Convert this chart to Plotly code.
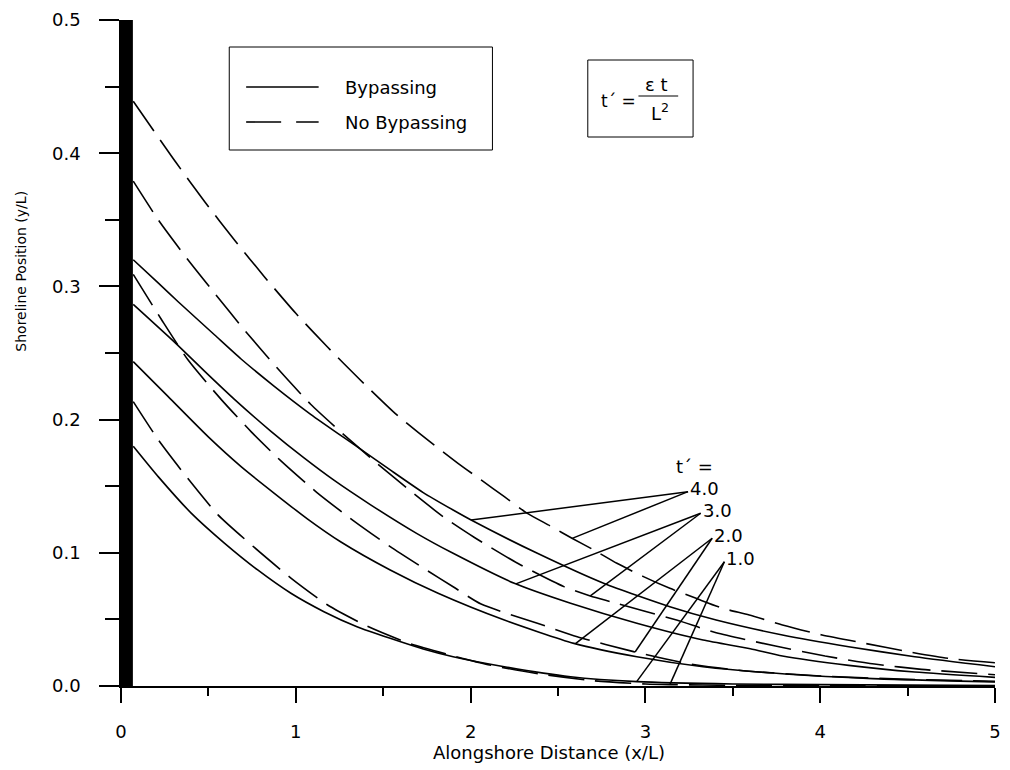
import numpy as np
import plotly.graph_objects as go

# ---------------- data ----------------
# Bypassing (solid)
x_b1 = [0.07, 0.214, 0.403, 0.593, 0.782, 0.972, 1.161, 1.35, 1.54, 1.729, 1.9, 2.193, 2.572, 2.951, 3.5, 4.0, 5.0]
y_b1 = [0.180, 0.157, 0.1296, 0.1071, 0.0871, 0.0696, 0.0558, 0.0445, 0.0358, 0.0278, 0.022, 0.0145, 0.007, 0.0033, 0.0015, 0.001, 0.0003]

x_b2 = [0.07, 0.27, 0.498, 0.687, 0.877, 1.066, 1.256, 1.54, 1.814, 2.193, 2.591, 2.951, 3.33, 3.8, 4.3, 5.0]
y_b2 = [0.2435, 0.2172, 0.1872, 0.1647, 0.1447, 0.1255, 0.1083, 0.0871, 0.0696, 0.0495, 0.032, 0.022, 0.0145, 0.009, 0.0055, 0.003]

x_b3 = [0.07, 0.309, 0.479, 0.649, 0.858, 1.047, 1.218, 1.426, 1.691, 1.9, 2.25, 2.572, 2.951, 3.33, 3.6, 3.784, 4.163, 4.541, 5.0]
y_b3 = [0.2865, 0.2578, 0.2362, 0.2152, 0.1912, 0.1712, 0.1545, 0.1362, 0.1146, 0.0996, 0.0771, 0.0621, 0.0471, 0.0345, 0.028, 0.0225, 0.0155, 0.0105, 0.0065]

x_b4 = [0.07, 0.214, 0.327, 0.536, 0.687, 0.877, 1.085, 1.35, 1.54, 1.729, 1.9, 2.003, 2.382, 2.761, 3.14, 3.405, 3.784, 4.163, 4.541, 5.0]
y_b4 = [0.320, 0.3025, 0.2885, 0.2635, 0.2455, 0.2250, 0.2040, 0.1797, 0.1622, 0.1452, 0.1321, 0.1246, 0.0996, 0.0771, 0.0595, 0.0495, 0.0383, 0.0295, 0.022, 0.0145]

# No Bypassing (dashed)
x_n1 = [0.07, 0.214, 0.384, 0.555, 0.763, 0.972, 1.18, 1.407, 1.653, 1.861, 2.1, 2.4, 2.7, 3.0, 3.14, 3.5, 4.0, 5.0]
y_n1 = [0.2135, 0.1847, 0.1555, 0.1285, 0.1040, 0.0810, 0.0610, 0.0450, 0.0318, 0.0240, 0.016, 0.009, 0.004, 0.0015, 0.001, 0.0005, 0.0002, 0.0]

x_n2 = [0.07, 0.233, 0.384, 0.574, 0.744, 0.915, 1.123, 1.331, 1.54, 1.748, 1.9, 2.06, 2.382, 2.61, 2.932, 3.235, 3.519, 4.0, 4.5, 5.0]
y_n2 = [0.309, 0.2748, 0.2447, 0.2150, 0.1910, 0.1690, 0.1450, 0.1240, 0.1046, 0.0870, 0.0745, 0.0615, 0.0471, 0.037, 0.0258, 0.017, 0.012, 0.0075, 0.005, 0.0035]

x_n3 = [0.07, 0.214, 0.384, 0.536, 0.706, 0.895, 1.085, 1.256, 1.464, 1.672, 1.843, 2.022, 2.269, 2.534, 2.685, 2.8, 3.178, 3.405, 3.744, 4.028, 4.31, 4.58, 5.0]
y_n3 = [0.379, 0.3498, 0.3198, 0.2948, 0.2673, 0.2385, 0.2115, 0.1909, 0.1672, 0.1447, 0.1271, 0.1115, 0.0921, 0.0746, 0.0676, 0.0633, 0.0495, 0.040, 0.030, 0.0225, 0.0165, 0.0125, 0.0085]

x_n4 = [0.07, 0.318, 0.479, 0.649, 0.82, 1.0, 1.18, 1.369, 1.568, 1.767, 1.928, 2.06, 2.193, 2.325, 2.458, 2.58, 2.705, 2.837, 2.989, 3.14, 3.29, 3.443, 3.594, 3.784, 4.011, 4.257, 4.503, 4.73, 5.0]
y_n4 = [0.439, 0.3924, 0.3636, 0.3348, 0.3073, 0.2798, 0.2547, 0.2297, 0.2047, 0.1834, 0.1672, 0.1547, 0.1421, 0.1296, 0.120, 0.1109, 0.1021, 0.0921, 0.0821, 0.0733, 0.0658, 0.0583, 0.0533, 0.0458, 0.0383, 0.032, 0.0258, 0.0208, 0.0175]

t_labels = ["4.0", "3.0", "2.0", "1.0"]
# label anchor (apex of leader lines), data coords
label_x = [3.244, 3.316, 3.382, 3.452]
label_y = [0.1459, 0.1297, 0.1109, 0.0933]
# x-positions where the leader lines touch the solid / dashed curve
leader_solid_x = [2.003, 2.259, 2.60, 2.95]
leader_dashed_x = [2.581, 2.685, 2.941, 3.14]

groin_x = [0.0, 0.068]
x_ticks = [0, 1, 2, 3, 4, 5]
y_ticks = [0.0, 0.1, 0.2, 0.3, 0.4, 0.5]

solid = {"4.0": (x_b4, y_b4), "3.0": (x_b3, y_b3), "2.0": (x_b2, y_b2), "1.0": (x_b1, y_b1)}
dashed = {"4.0": (x_n4, y_n4), "3.0": (x_n3, y_n3), "2.0": (x_n2, y_n2), "1.0": (x_n1, y_n1)}

FONT = "DejaVu Sans"
DASH = "36px,11px"

# ---------------- figure ----------------
L, R, T, B = 121, 9, 20, 84
W, H = 1010, 770
PW, PH = W - L - R, H - T - B


def px(xp):
    return (xp - L) / PW


def py(yp):
    return (H - B - yp) / PH


fig = go.Figure()

for key in ["1.0", "2.0", "3.0", "4.0"]:
    xs, ys = solid[key]
    fig.add_trace(go.Scatter(x=xs, y=ys, mode="lines",
                             line=dict(color="black", width=1.6, shape="spline", smoothing=0.6),
                             showlegend=False, hoverinfo="skip"))
    xs, ys = dashed[key]
    fig.add_trace(go.Scatter(x=xs, y=ys, mode="lines",
                             line=dict(color="black", width=1.6, dash=DASH, shape="spline", smoothing=0.6),
                             showlegend=False, hoverinfo="skip"))

# groin (black bar)
fig.add_shape(type="rect", xref="x", yref="y", x0=groin_x[0], x1=groin_x[1], y0=y_ticks[0], y1=y_ticks[-1],
              fillcolor="black", line=dict(width=0))

# leader lines and t' labels
for lab, lx, ly, sx, dx in zip(t_labels, label_x, label_y, leader_solid_x, leader_dashed_x):
    xs, ys = solid[lab]
    sy = float(np.interp(sx, xs, ys))
    xd, yd = dashed[lab]
    dy = float(np.interp(dx, xd, yd))
    for tx, ty in [(sx, sy), (dx, dy)]:
        fig.add_shape(type="line", xref="x", yref="y", x0=lx, y0=ly, x1=tx, y1=ty,
                      line=dict(color="black", width=1.5))
    fig.add_annotation(x=lx, y=ly, xref="x", yref="y", text=lab, showarrow=False,
                       xanchor="left", yanchor="middle", xshift=0, yshift=3,
                       font=dict(family=FONT, size=18, color="black"))

fig.add_annotation(x=px(698), y=py(466), xref="paper", yref="paper", text="t´ =", showarrow=False,
                   xanchor="center", yanchor="middle", font=dict(family=FONT, size=18, color="black"))

# legend box
fig.add_shape(type="rect", xref="paper", yref="paper", x0=px(230), x1=px(495), y0=py(150), y1=py(47),
              line=dict(color="black", width=1), fillcolor="white")
fig.add_shape(type="line", xref="paper", yref="paper", x0=px(247), x1=px(320), y0=py(87), y1=py(87),
              line=dict(color="black", width=1.6))
fig.add_shape(type="line", xref="paper", yref="paper", x0=px(247), x1=px(320), y0=py(122), y1=py(122),
              line=dict(color="black", width=1.6, dash="35px,15px"))
fig.add_annotation(x=px(345), y=py(87), xref="paper", yref="paper", text="Bypassing", showarrow=False,
                   xanchor="left", yanchor="middle", font=dict(family=FONT, size=18, color="black"))
fig.add_annotation(x=px(345), y=py(122), xref="paper", yref="paper", text="No Bypassing", showarrow=False,
                   xanchor="left", yanchor="middle", font=dict(family=FONT, size=18, color="black"))

# formula box
fig.add_shape(type="rect", xref="paper", yref="paper", x0=px(591), x1=px(697), y0=py(137), y1=py(60),
              line=dict(color="black", width=1), fillcolor="white")
fig.add_annotation(x=px(622), y=py(101), xref="paper", yref="paper", text="t´ =", showarrow=False,
                   xanchor="center", yanchor="middle", font=dict(family=FONT, size=17, color="black"))
fig.add_shape(type="line", xref="paper", yref="paper", x0=px(642), x1=px(682), y0=py(96), y1=py(96),
              line=dict(color="black", width=1.2))
fig.add_annotation(x=px(660), y=py(84), xref="paper", yref="paper", text="ε t", showarrow=False,
                   xanchor="center", yanchor="middle", font=dict(family=FONT, size=18, color="black"))
fig.add_annotation(x=px(664), y=py(112), xref="paper", yref="paper", text="L<sup>2</sup>", showarrow=False,
                   xanchor="center", yanchor="middle", font=dict(family=FONT, size=18, color="black"))

# axis titles
fig.add_annotation(x=px(552), y=py(752), xref="paper", yref="paper", text="Alongshore Distance (x/L)",
                   showarrow=False, xanchor="center", yanchor="middle",
                   font=dict(family=FONT, size=18, color="black"))
fig.add_annotation(x=px(20), y=py(271), xref="paper", yref="paper", text="Shoreline Position (y/L)",
                   showarrow=False, xanchor="center", yanchor="middle", textangle=-90,
                   font=dict(family=FONT, size=14, color="black"))

fig.update_layout(
    width=W, height=H,
    margin=dict(l=L, r=R, t=T, b=B),
    plot_bgcolor="white", paper_bgcolor="white",
    font=dict(family=FONT, size=18, color="black"),
    showlegend=False,
    xaxis=dict(range=[0, 5], tickvals=x_ticks, ticktext=[str(v) for v in x_ticks],
               showline=True, linecolor="black", linewidth=1.5, mirror=False,
               ticks="outside", ticklen=15, tickwidth=1.5, tickcolor="black",
               ticklabelstandoff=14,
               minor=dict(dtick=0.5, ticks="outside", ticklen=8, tickwidth=1.5, tickcolor="black"),
               showgrid=False, zeroline=False, tickfont=dict(family=FONT, size=18)),
    yaxis=dict(range=[0, 0.5], tickvals=y_ticks, ticktext=[f"{v:.1f}" for v in y_ticks],
               showline=True, linecolor="black", linewidth=1.5, mirror=False,
               ticks="outside", ticklen=20, tickwidth=1.5, tickcolor="black",
               ticklabelstandoff=15,
               minor=dict(dtick=0.05, ticks="outside", ticklen=14, tickwidth=1.5, tickcolor="black"),
               showgrid=False, zeroline=False, tickfont=dict(family=FONT, size=18)),
)

fig.write_html("out.html")
